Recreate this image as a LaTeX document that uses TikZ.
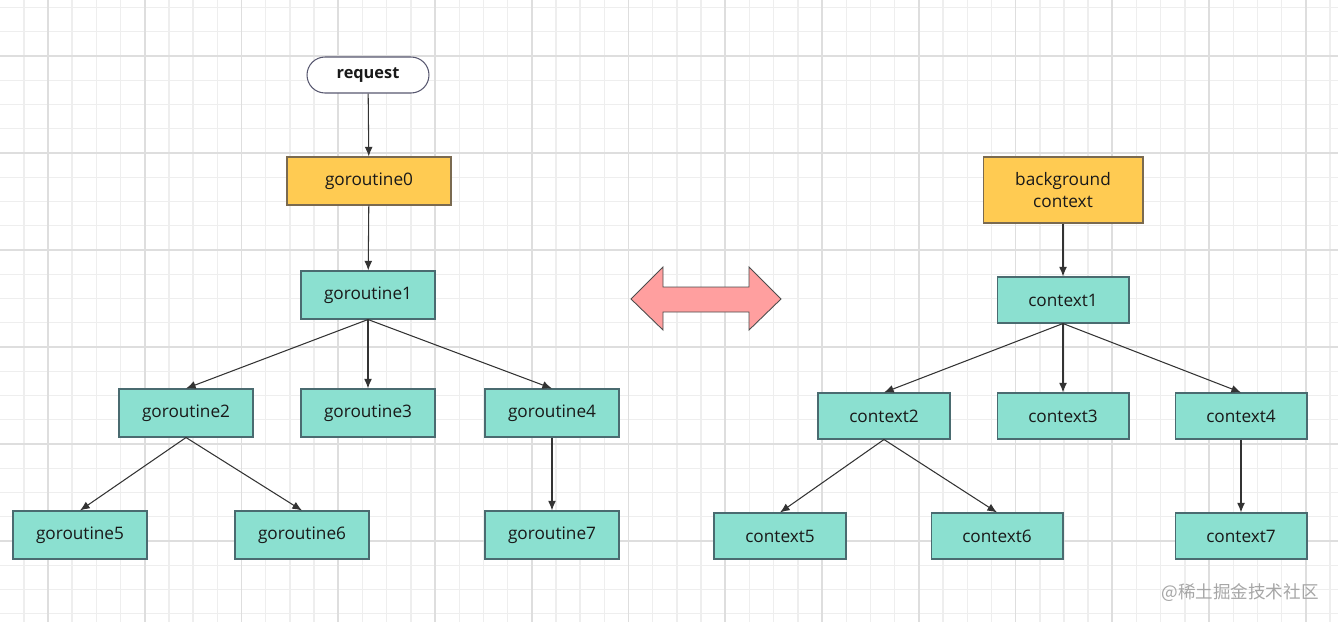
\documentclass[tikz,border=0pt]{standalone}
\usepackage{fontspec}
\setmainfont{Open Sans}
\newfontfamily\cjkfont{Noto Sans CJK SC}
\usetikzlibrary{arrows.meta}
\definecolor{tealfill}{RGB}{139,224,208}
\definecolor{tealline}{RGB}{74,107,112}
\definecolor{rootfill}{RGB}{255,203,82}
\definecolor{rootline}{RGB}{122,106,80}
\definecolor{pillline}{RGB}{88,88,112}
\definecolor{swapfill}{RGB}{255,159,159}
\definecolor{gridminor}{RGB}{238,238,238}
\definecolor{gridmajor}{RGB}{222,222,222}
\tikzstyle{box}=[draw, line width=0.6pt, inner sep=0pt, text=black!90, font=\fontsize{9.8}{12.5}\selectfont]
\tikzstyle{gobox}=[box, fill=tealfill, draw=tealline, minimum width=2.68cm, minimum height=0.96cm]
\tikzstyle{ctxbox}=[box, fill=tealfill, draw=tealline, minimum width=2.64cm, minimum height=0.92cm]
\tikzstyle{rootbox}=[box, fill=rootfill, draw=rootline]
\tikzset{link/.style={-{Latex[length=5.5pt,width=4.5pt]}, line width=0.6pt, black!80}}

\begin{document}
\begin{tikzpicture}[x=0.02cm, y=-0.02cm]
  \useasboundingbox (0,0) rectangle (1338,622);

  %% Paper grid
  \foreach \k in {-2,...,53}
    \draw[gridminor, line width=0.8pt] (48+24.19*\k,0) -- (48+24.19*\k,622);
  \foreach \k in {-2,...,23}
    \draw[gridminor, line width=0.8pt] (0,56+24.25*\k) -- (1338,56+24.25*\k);
  \foreach \k in {0,4,...,52}
    \draw[gridmajor, line width=1pt] (48+24.19*\k,0) -- (48+24.19*\k,622);
  \foreach \k in {0,4,...,20}
    \draw[gridmajor, line width=1pt] (0,56+24.25*\k) -- (1338,56+24.25*\k);

  %% Goroutines
  \draw (368,75) node[box, draw=pillline, fill=white, rounded corners=0.36cm, minimum width=2.44cm, minimum height=0.72cm, font=\fontsize{9.3}{11}\bfseries] (Req) {request};
  \draw (369,181) node[rootbox, minimum width=3.28cm, minimum height=0.96cm] (G0) {goroutine0};
  \draw (368,295) node[gobox] (G1) {goroutine1};
  \draw (186,413) node[gobox] (G2) {goroutine2};
  \draw (368,413) node[gobox] (G3) {goroutine3};
  \draw (552,413) node[gobox] (G4) {goroutine4};
  \draw (80,535) node[gobox] (G5) {goroutine5};
  \draw (302,535) node[gobox] (G6) {goroutine6};
  \draw (552,535) node[gobox] (G7) {goroutine7};

  \draw[link] (Req) -- (G0);
  \draw[link] (G0) -- (G1);
  \draw[link] (G1.south) -- (G2.north);
  \draw[link] (G1.south) -- (G3.north);
  \draw[link] (G1.south) -- (G4.north);
  \draw[link] (G2.south) -- (G5.north);
  \draw[link] (G2.south) -- (G6.north);
  \draw[link] (G4) -- (G7);

  %% Contexts
  \draw (1063,190) node[rootbox, minimum width=3.2cm, minimum height=1.32cm, align=center] (C0) {background\\context};
  \draw (1063,300) node[ctxbox] (C1) {context1};
  \draw (884,416) node[ctxbox] (C2) {context2};
  \draw (1063,416) node[ctxbox] (C3) {context3};
  \draw (1241,416) node[ctxbox] (C4) {context4};
  \draw (780,536) node[ctxbox] (C5) {context5};
  \draw (997,536) node[ctxbox] (C6) {context6};
  \draw (1241,536) node[ctxbox] (C7) {context7};

  \draw[link] (C0) -- (C1);
  \draw[link] (C1.south) -- (C2.north);
  \draw[link] (C1.south) -- (C3.north);
  \draw[link] (C1.south) -- (C4.north);
  \draw[link] (C2.south) -- (C5.north);
  \draw[link] (C2.south) -- (C6.north);
  \draw[link] (C4) -- (C7);

  %% Two-way arrow
  \draw[fill=swapfill, draw=black!70, line width=0.5pt] (631,299) -- (663,267) -- (663,287) -- (749,287) -- (749,267)
    -- (781,299) -- (749,330) -- (749,312) -- (663,312) -- (663,330) -- cycle;

  %% Watermark
  \draw (1240,593) node[text=black!35, font=\fontsize{10}{12}\cjkfont] (Mark) {@稀土掘金技术社区};
\end{tikzpicture}
\end{document}
